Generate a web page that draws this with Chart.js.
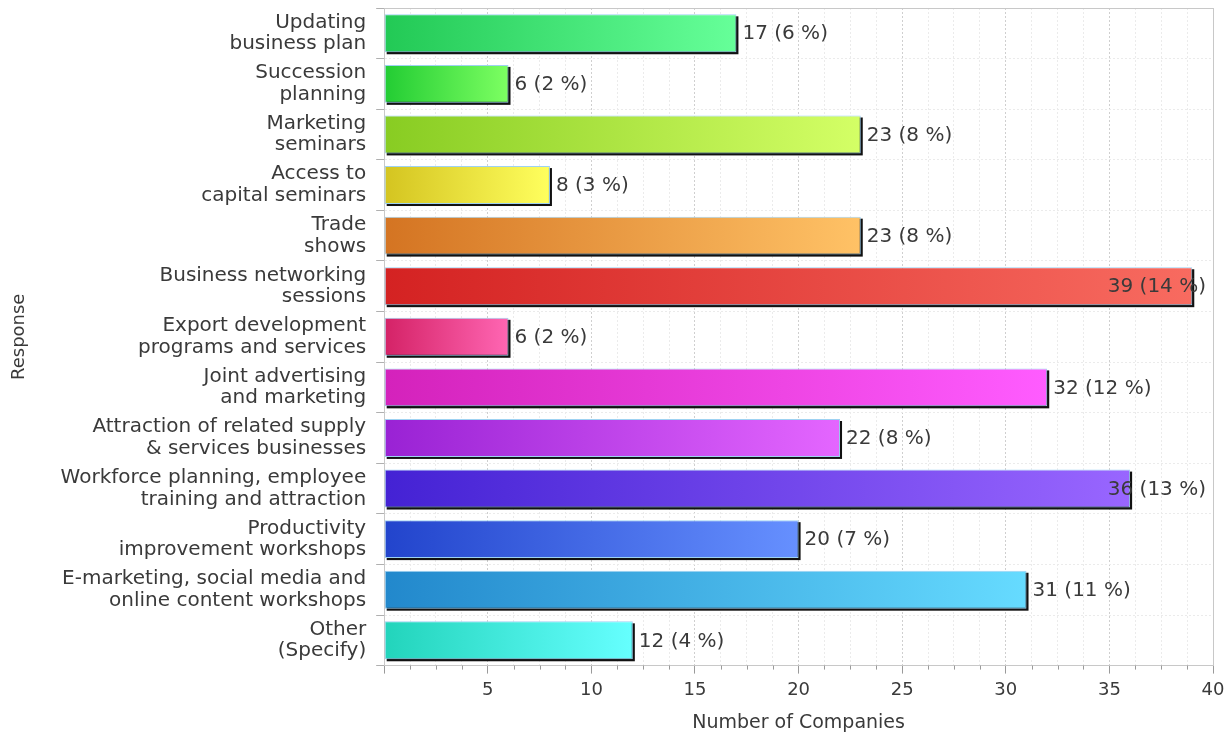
<!DOCTYPE html>
<html lang="en">
<head>
    <meta charset="UTF-8">
    <title>Response - Number of Companies</title>
    <script src="https://cdn.jsdelivr.net/npm/chart.js"></script>
    <style>
        body {
            margin: 0;
            background: #fff;
        }
        .wrap {
            width: 1231px;
            height: 736px;
            position: relative;
        }
    </style>
</head>
<body>
    <div class="wrap"><canvas id="chart"></canvas></div>

    <script>
        // data
        const categories = [
            ['Updating', 'business plan'],
            ['Succession', 'planning'],
            ['Marketing', 'seminars'],
            ['Access to', 'capital seminars'],
            ['Trade', 'shows'],
            ['Business networking', 'sessions'],
            ['Export development', 'programs and services'],
            ['Joint advertising', 'and marketing'],
            ['Attraction of related supply', '& services businesses'],
            ['Workforce planning, employee', 'training and attraction'],
            ['Productivity', 'improvement workshops'],
            ['E-marketing, social media and', 'online content workshops'],
            ['Other', '(Specify)']
        ];
        const companies = [17, 6, 23, 8, 23, 39, 6, 32, 22, 36, 20, 31, 12];
        const percents = [6, 2, 8, 3, 8, 14, 2, 12, 8, 13, 7, 11, 4];
        const xTickLabels = [5, 10, 15, 20, 25, 30, 35, 40];

        // left (dark) and right (light) colour of each bar
        const darkColors = ['#22c955', '#22cc33', '#88cc22', '#d4c420', '#d47422', '#d42222', '#d42266',
            '#d422bb', '#9922d4', '#4422d4', '#2244cc', '#2288cc', '#22d4bb'];
        const lightColors = ['#66ff99', '#7dff62', '#d4ff66', '#ffff5e', '#ffc266', '#f86b60', '#ff66b3',
            '#ff5cff', '#e466ff', '#9966ff', '#6690ff', '#66dbff', '#66ffff'];

        const FONT = "'DejaVu Sans', sans-serif";
        const TEXT = '#3a3a3a';

        function barGradient(c) {
            const chart = c.chart;
            const i = c.dataIndex;
            if (!chart.chartArea || !chart.scales.x) return darkColors[i];
            const xs = chart.scales.x;
            const x0 = xs.getPixelForValue(0);
            const x1 = xs.getPixelForValue(companies[i]);
            const g = chart.ctx.createLinearGradient(x0, 0, x1, 0);
            g.addColorStop(0, darkColors[i]);
            g.addColorStop(1, lightColors[i]);
            return g;
        }

        const barExtras = {
            id: 'barExtras',
            beforeDatasetsDraw(chart) {
                // black drop shadow under each bar
                const ctx = chart.ctx;
                ctx.save();
                ctx.fillStyle = '#111';
                chart.getDatasetMeta(0).data.forEach(bar => {
                    const p = bar.getProps(['x', 'y', 'base', 'height'], true);
                    ctx.fillRect(p.base + 2, p.y - p.height / 2 + 2, p.x - p.base, p.height);
                });
                ctx.restore();
            },
            afterDatasetsDraw(chart) {
                const ctx = chart.ctx;
                const area = chart.chartArea;
                ctx.save();
                ctx.font = '20px ' + FONT;
                ctx.fillStyle = TEXT;
                ctx.textBaseline = 'middle';
                chart.getDatasetMeta(0).data.forEach((bar, i) => {
                    const p = bar.getProps(['x', 'y'], true);
                    const txt = companies[i] + ' (' + percents[i] + ' %)';
                    const w = ctx.measureText(txt).width;
                    const tx = Math.min(p.x + 6, area.right - 7 - w);
                    ctx.fillText(txt, tx, p.y + 1);
                });
                ctx.restore();
            },
            afterDraw(chart) {
                const ctx = chart.ctx;
                const a = chart.chartArea;
                const xs = chart.scales.x;
                ctx.save();
                ctx.strokeStyle = '#c8c8c8';
                ctx.lineWidth = 1;
                // top and right frame
                ctx.beginPath();
                ctx.moveTo(a.left, a.top + 0.5);
                ctx.lineTo(a.right + 0.5, a.top + 0.5);
                ctx.lineTo(a.right + 0.5, a.bottom);
                ctx.stroke();
                // short minor ticks
                ctx.strokeStyle = '#9a9a9a';
                ctx.beginPath();
                xs.ticks.forEach(t => {
                    if (t.value % 5 !== 0) {
                        const px = Math.round(xs.getPixelForValue(t.value)) + 0.5;
                        ctx.moveTo(px, a.bottom);
                        ctx.lineTo(px, a.bottom + 4);
                    }
                });
                ctx.stroke();
                ctx.restore();
            }
        };

        new Chart(document.getElementById('chart'), {
            type: 'bar',
            data: {
                labels: categories,
                datasets: [{
                    data: companies,
                    backgroundColor: barGradient,
                    borderColor: '#9ed2f2',
                    borderWidth: 1,
                    borderSkipped: false,
                    categoryPercentage: 0.75,
                    barPercentage: 1
                }]
            },
            options: {
                indexAxis: 'y',
                responsive: true,
                maintainAspectRatio: false,
                animation: false,
                layout: {
                    padding: { top: 8, right: 18, bottom: 2, left: 9 }
                },
                plugins: {
                    legend: { display: false },
                    tooltip: { enabled: false }
                },
                scales: {
                    x: {
                        type: 'linear',
                        min: 0,
                        max: 40,
                        afterBuildTicks(scale) {
                            const ticks = [];
                            for (let v = 0; v <= 40; v += 1.25) ticks.push({ value: v });
                            scale.ticks = ticks;
                        },
                        ticks: {
                            autoSkip: false,
                            maxRotation: 0,
                            padding: 6,
                            color: TEXT,
                            font: { family: FONT, size: 18 },
                            callback: v => xTickLabels.includes(v) ? String(v) : ''
                        },
                        grid: {
                            color: c => (c.tick && c.tick.value % 5 === 0) ? '#cfcfcf' : '#ebebeb',
                            tickColor: c => (c.tick && c.tick.value % 5 === 0) ? '#9a9a9a' : 'rgba(0,0,0,0)',
                            tickLength: 8,
                            tickBorderDash: []
                        },
                        border: { color: '#c8c8c8', dash: [2, 2] },
                        title: {
                            display: true,
                            text: 'Number of Companies',
                            color: TEXT,
                            font: { family: FONT, size: 19 },
                            padding: { top: 4, bottom: 0 }
                        }
                    },
                    y: {
                        afterFit(scale) {
                            scale.paddingTop = 0;
                            scale.paddingBottom = 0;
                        },
                        ticks: {
                            color: TEXT,
                            padding: 10,
                            font: { family: FONT, size: 20, lineHeight: 1.08 }
                        },
                        grid: {
                            color: '#ebebeb',
                            tickColor: '#b0b0b0',
                            tickLength: 8,
                            tickBorderDash: []
                        },
                        border: { color: '#c8c8c8', dash: [2, 2] },
                        title: {
                            display: true,
                            text: 'Response',
                            color: TEXT,
                            font: { family: FONT, size: 18 },
                            padding: { top: 0, bottom: 20 }
                        }
                    }
                }
            },
            plugins: [barExtras]
        });
    </script>
</body>
</html>
